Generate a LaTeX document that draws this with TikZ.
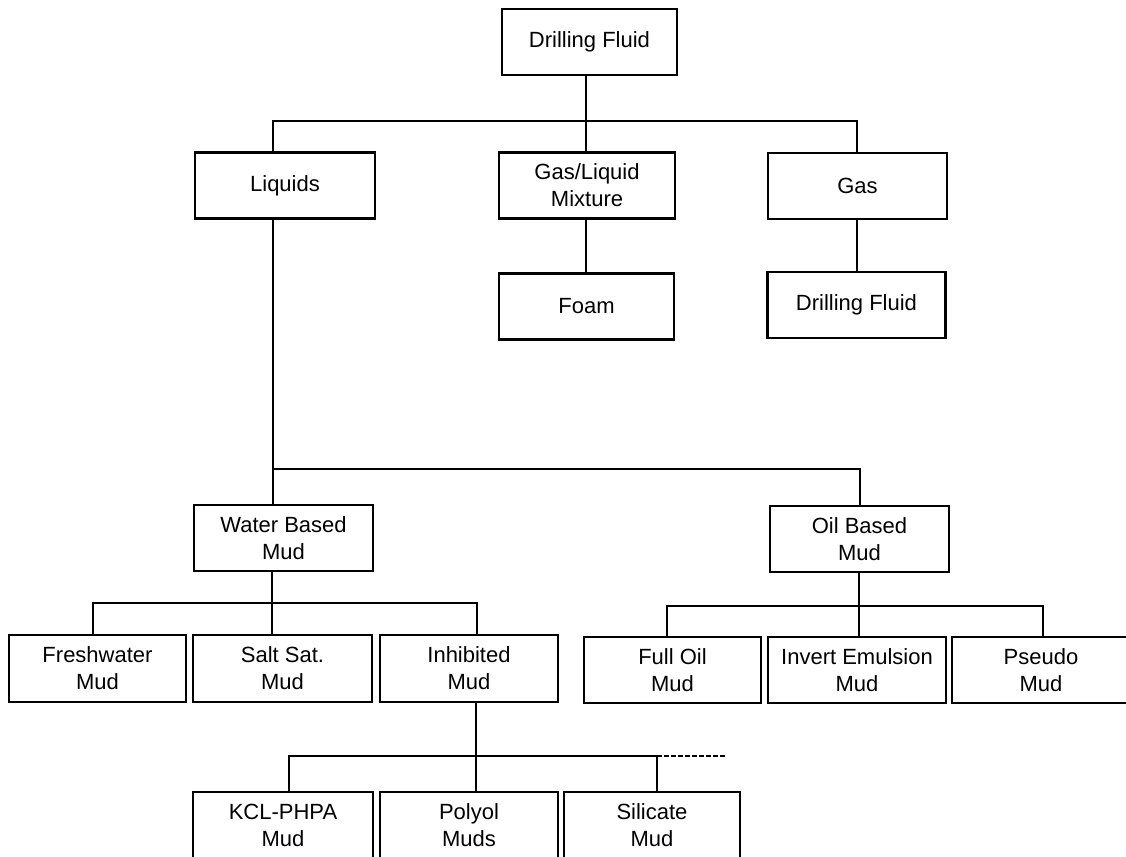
\documentclass[tikz,border=0pt]{standalone}
\usepackage{fontspec}
\setmainfont{Liberation Sans}
\begin{document}
\begin{tikzpicture}[x=1pt,y=-1pt,
    mudbox/.style={draw,line width=2.2pt,minimum height=66pt,inner sep=0pt,
      align=center,font=\fontsize{22}{27}\selectfont},
    link/.style={line width=2.2pt}]
  \useasboundingbox (0,0) rectangle (1126,856);
  \clip (0,0) rectangle (1126,856);
  % first level
  \node[mudbox,minimum width=175pt] (drill) at (589.5,42) {Drilling Fluid};
  \node[mudbox,minimum width=180pt] (liq) at (285,185.5) {Liquids};
  \node[mudbox,minimum width=176pt] (mix) at (587,185.5) {Gas/Liquid\\Mixture};
  \node[mudbox,minimum width=179pt] (gas) at (857.5,186) {Gas};
  \node[mudbox,minimum width=175pt] (foam) at (586.5,306.5) {Foam};
  \node[mudbox,minimum width=178pt] (dfluid) at (856.5,305) {Drilling Fluid};
  % muds
  \node[mudbox,minimum width=179pt] (wbm) at (283.5,538) {Water Based\\Mud};
  \node[mudbox,minimum width=179pt] (obm) at (859.5,539) {Oil Based\\Mud};
  \node[mudbox,minimum width=177pt,minimum height=67pt] (fresh) at (97.5,668.5) {Freshwater\\Mud};
  \node[mudbox,minimum width=179pt,minimum height=67pt] (salt) at (282.5,668.5) {Salt Sat.\\Mud};
  \node[mudbox,minimum width=178pt,minimum height=67pt] (inhib) at (469,668.5) {Inhibited\\Mud};
  \node[mudbox,minimum width=177pt] (full) at (672.5,670) {Full Oil\\Mud};
  \node[mudbox,minimum width=178pt] (invert) at (857,670) {Invert Emulsion\\Mud};
  \node[mudbox,minimum width=178pt] (pseudo) at (1041,670) {Pseudo\\Mud};
  % inhibited muds
  \node[mudbox,minimum width=180pt,minimum height=67pt] (kcl) at (283,825.5) {KCL-PHPA\\Mud};
  \node[mudbox,minimum width=178pt,minimum height=67pt] (polyol) at (469,825.5) {Polyol\\Muds};
  \node[mudbox,minimum width=176pt,minimum height=67pt] (silic) at (652,825.5) {Silicate\\Mud};
  % junctions
  \coordinate (j1) at (586,121);
  \coordinate (j1a) at (273,121);
  \coordinate (j1b) at (857,121);
  \coordinate (j2a) at (273,469);
  \coordinate (j2b) at (860,469);
  \coordinate (j3) at (272,603);
  \coordinate (j3a) at (93,603);
  \coordinate (j3b) at (477,603);
  \coordinate (j4) at (859,606);
  \coordinate (j4a) at (667,606);
  \coordinate (j4b) at (1043,606);
  \coordinate (j5) at (476,756);
  \coordinate (j5a) at (289,756);
  \coordinate (j5b) at (657,756);
  \coordinate (j5c) at (726,756);
  % connectors
  \draw[link] (drill.south -| j1) -- (j1) -- (j1 |- mix.north);
  \draw[link] (j1a |- liq.north) -- (j1a) -- (j1b) -- (j1b |- gas.north);
  \draw[link] (j1 |- mix.south) -- (j1 |- foam.north);
  \draw[link] (j1b |- gas.south) -- (j1b |- dfluid.north);
  \draw[link] (j2a |- liq.south) -- (j2a |- wbm.north);
  \draw[link] (j2a) -- (j2b) -- (j2b |- obm.north);
  \draw[link] (j3 |- wbm.south) -- (j3 |- salt.north);
  \draw[link] (j3a |- fresh.north) -- (j3a) -- (j3b) -- (j3b |- inhib.north);
  \draw[link] (j4 |- obm.south) -- (j4 |- invert.north);
  \draw[link] (j4a |- full.north) -- (j4a) -- (j4b) -- (j4b |- pseudo.north);
  \draw[link] (j5 |- inhib.south) -- (j5 |- polyol.north);
  \draw[link] (j5a |- kcl.north) -- (j5a) -- (j5b) -- (j5b |- silic.north);
  \draw[link,line width=1.6pt,dash pattern=on 4.5pt off 2.5pt] (j5b) -- (j5c);
\end{tikzpicture}
\end{document}
